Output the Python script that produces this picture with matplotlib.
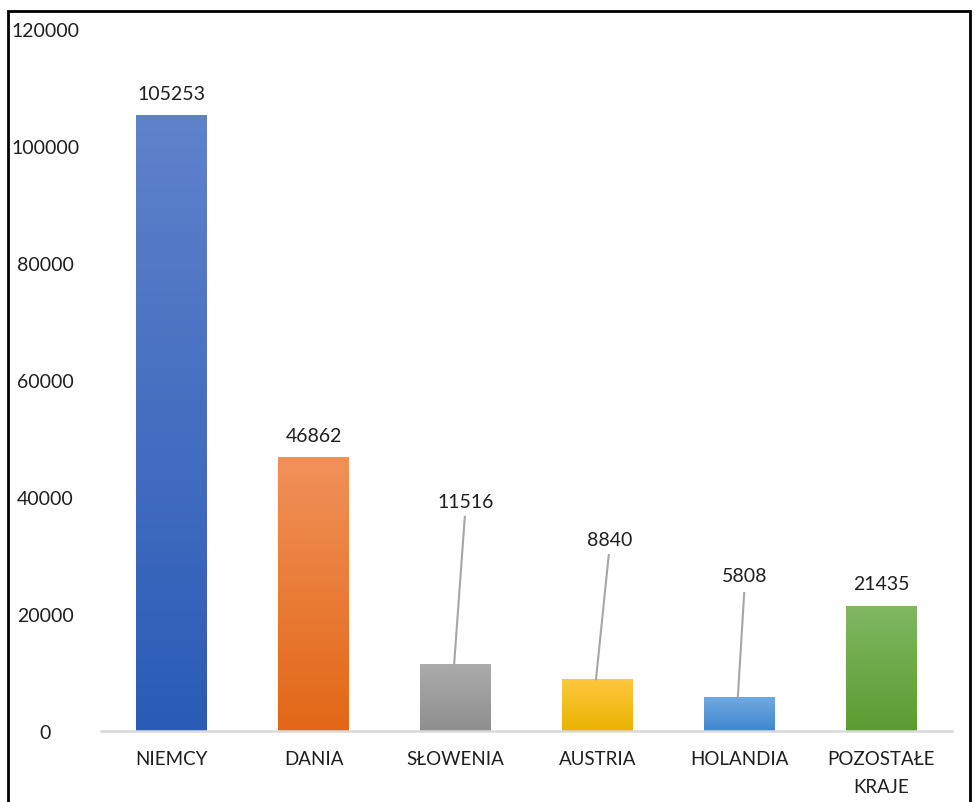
import matplotlib.pyplot as plt
import numpy as np
from matplotlib.colors import LinearSegmentedColormap
from matplotlib.patches import Rectangle

plt.rcParams['font.family'] = ['Lato', 'DejaVu Sans']

countries = ['NIEMCY', 'DANIA', 'SŁOWENIA', 'AUSTRIA', 'HOLANDIA', 'POZOSTAŁE\nKRAJE']
values = [105253, 46862, 11516, 8840, 5808, 21435]
# (top, bottom) gradient colours per bar
grads = [('#5f82cb', '#2b5bb7'),
         ('#f1915a', '#e26716'),
         ('#ababab', '#8f8f8f'),
         ('#ffc73f', '#e9b400'),
         ('#70a9e1', '#3f86cf'),
         ('#80b862', '#5a9c32')]
yticks = [0, 20000, 40000, 60000, 80000, 100000, 120000]
# labels moved off the small bars, with leader lines: (x offset, label y, line top y)
moved = {2: (0.07, 39300, 36600), 3: (0.085, 32800, 30100), 4: (0.04, 26500, 23600)}

fig = plt.figure(figsize=(9.74, 8.03), dpi=100)
ax = fig.add_axes([101 / 974, 1 - 732 / 803, 851 / 974, 702 / 803])

x = np.arange(len(countries))
bars = ax.bar(x, values, width=0.5, color='none', zorder=2)
grad = np.linspace(0, 1, 256).reshape(-1, 1)
for b, (top, bot) in zip(bars, grads):
    cmap = LinearSegmentedColormap.from_list('g', [top, bot])
    im = ax.imshow(grad, cmap=cmap, aspect='auto', zorder=2,
                   extent=[b.get_x(), b.get_x() + b.get_width(), 0, b.get_height()],
                   origin='upper')
    im.set_clip_path(b)

for i, v in enumerate(values):
    if i in moved:
        dx, ly, lt = moved[i]
        ax.text(i + dx, ly, str(v), ha='center', va='center', fontsize=14, color='#1f1f1f')
        ax.plot([i + dx - 0.005, i - 0.01], [lt, v], color='#a6a6a6', lw=1.5, zorder=3)
    else:
        ax.text(i, v + 3700, str(v), ha='center', va='center', fontsize=14, color='#1f1f1f')

ax.set_xlim(-0.5, len(countries) - 0.5)
ax.set_ylim(0, 120000)
ax.set_yticks(yticks)
ax.set_yticklabels([str(t) for t in yticks], ha='center')
ax.tick_params(axis='y', length=0, pad=40, labelsize=14, labelcolor='#1f1f1f')
ax.set_xticks(x)
ax.set_xticklabels(countries, fontsize=13.5, color='#1f1f1f', linespacing=1.75)
ax.tick_params(axis='x', length=0, pad=14)
for s in ['top', 'right', 'left']:
    ax.spines[s].set_visible(False)
ax.spines['bottom'].set_color('#d9d9d9')
ax.spines['bottom'].set_linewidth(1.8)

fig.patches.append(Rectangle((8 / 974, -0.01), 962 / 974, 1.01 - 12 / 803,
                             transform=fig.transFigure, fill=False,
                             edgecolor='black', linewidth=2))

fig.savefig('out.png', dpi=100)
